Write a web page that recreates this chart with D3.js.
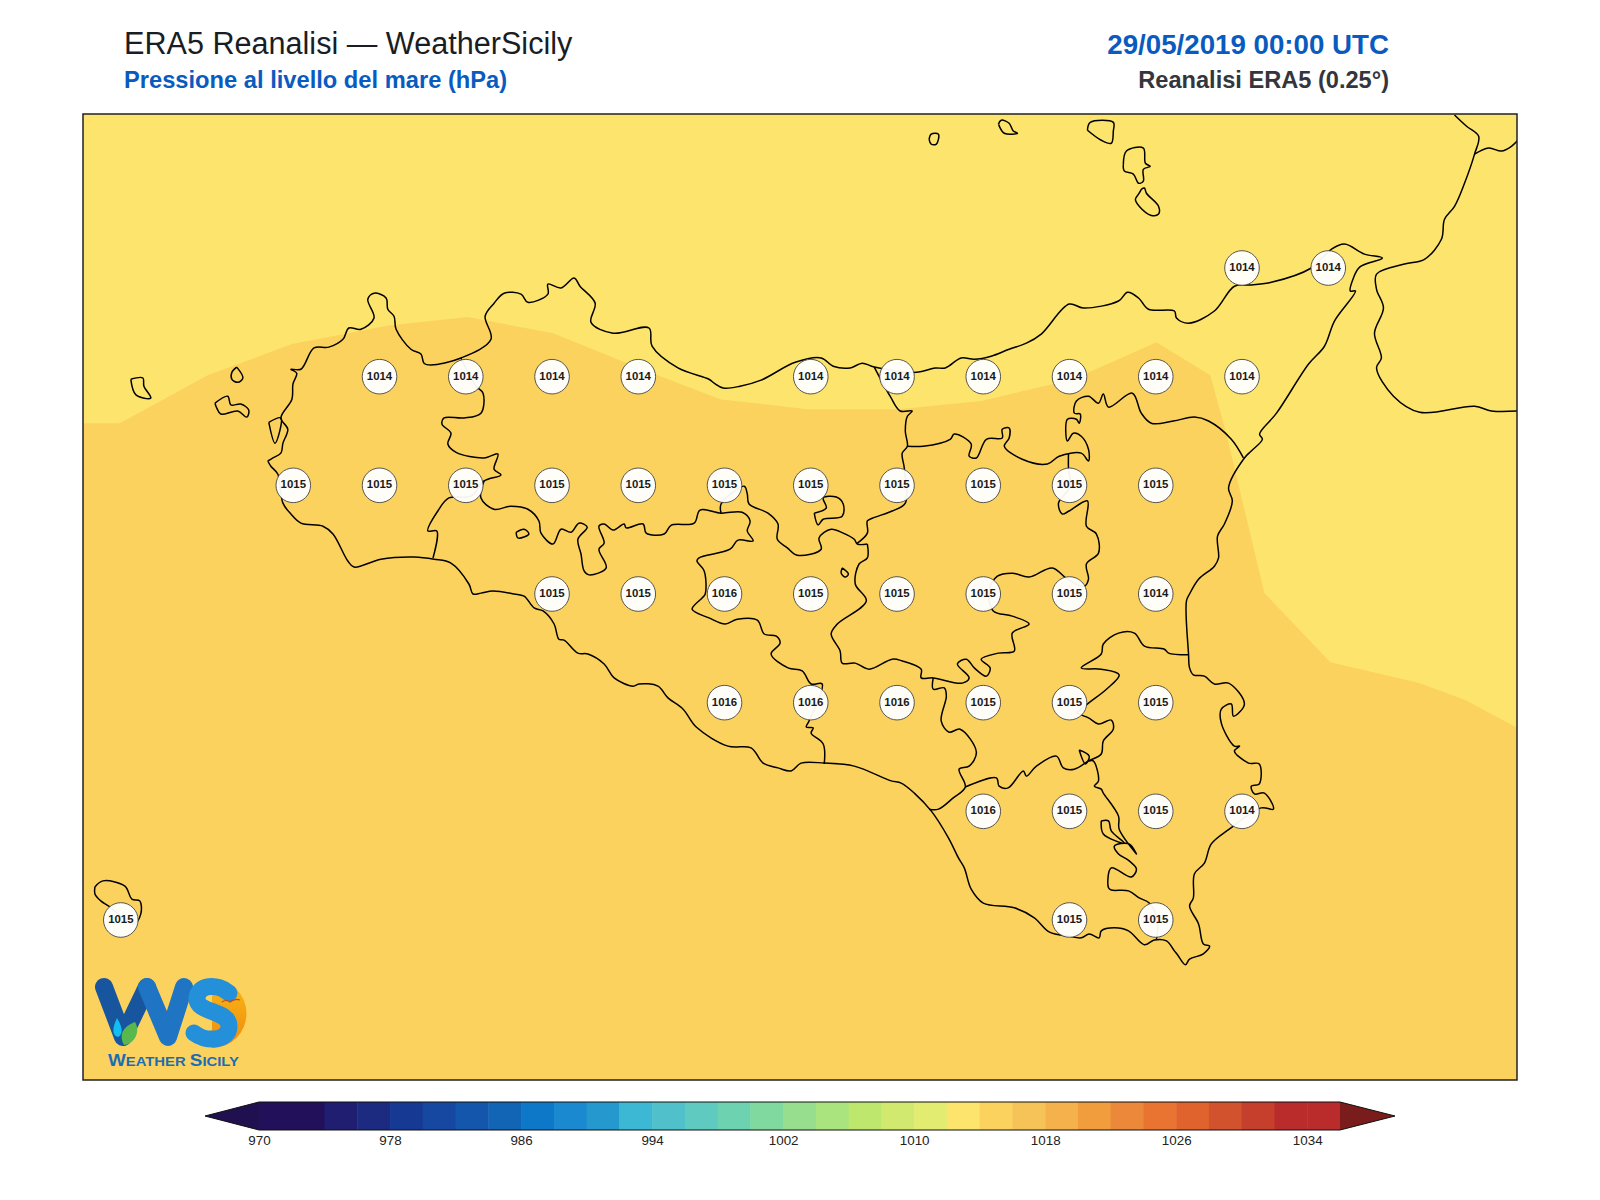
<!DOCTYPE html>
<html>
<head>
<meta charset="utf-8">
<script src="https://cdn.jsdelivr.net/npm/d3@7.9.0/dist/d3.min.js"></script>
<style>
  html, body { margin: 0; background: #fff; }
  text { font-family: "Liberation Sans", Arial, sans-serif; }
</style>
</head>
<body>
<svg id="chart" width="1600" height="1200"></svg>
<script>
// colour bar levels (hPa) and their colours
const levels = [972,974,976,978,980,982,984,986,988,990,992,994,996,998,1000,1002,1004,1006,1008,1010,1012,1014,1016,1018,1020,1022,1024,1026,1028,1030,1032,1034];
const levelColors = ['#22105a','#22105a','#201e70','#1c2b7f','#163a94','#1648a1','#1456ab','#1265b5','#0e78c8','#1a89cf','#2599cd','#3cb8d4','#50c0cb','#5fcabf','#6cd2b0','#80d99f','#97de8e','#aae47f','#bde76d','#d0e96e','#e2ec70','#fde46c','#fcd25f','#f6c358','#f5b24c','#f19d3d','#ec883a','#e97431','#e0622c','#d1522c','#c63e2c','#ba2b2b','#ba2b2b'];
const colorTicks = [970,978,986,994,1002,1010,1018,1026,1034];
const underColor = '#201050';
const overColor = '#7b1c1c';

// pressure labels on the 0.25 degree grid
const lat3825 = { lat: 38.25, lons: [15.25,15.5], vals: [1014,1014] };
const lat3800 = { lat: 38.0, lons: [12.75,13,13.25,13.5,14,14.25,14.5,14.75,15,15.25], vals: [1014,1014,1014,1014,1014,1014,1014,1014,1014,1014] };
const lat3775 = { lat: 37.75, lons: [12.5,12.75,13,13.25,13.5,13.75,14,14.25,14.5,14.75,15], vals: [1015,1015,1015,1015,1015,1015,1015,1015,1015,1015,1015] };
const lat3750 = { lat: 37.5, lons: [13.25,13.5,13.75,14,14.25,14.5,14.75,15], vals: [1015,1015,1016,1015,1015,1015,1015,1014] };
const lat3725 = { lat: 37.25, lons: [13.75,14,14.25,14.5,14.75,15], vals: [1016,1016,1016,1015,1015,1015] };
const lat3700 = { lat: 37.0, lons: [14.5,14.75,15,15.25], vals: [1016,1015,1015,1014] };
const lat3675 = { lat: 36.75, lons: [12,14.75,15], vals: [1015,1015,1015] };

// 1014 hPa contour, west to east
const contour1014 = [[11.89,37.893],[11.997,37.893],[12.252,38.003],[12.496,38.075],[12.777,38.118],[13.006,38.137],[13.253,38.100],[13.502,38.020],[13.737,37.948],[13.990,37.925],[14.256,37.925],[14.494,37.944],[14.761,37.994],[15.002,38.079],[15.158,38.003],[15.202,37.877],[15.315,37.502],[15.506,37.343],[15.764,37.295],[15.897,37.256],[16.06,37.187]];

// coastlines, lon/lat
const coastSicily = [[12.426,37.806],[12.441,37.813],[12.464,37.824],[12.470,37.847],[12.484,37.879],[12.464,37.905],[12.496,37.948],[12.499,37.983],[12.510,38.008],[12.493,38.017],[12.522,38.017],[12.560,38.066],[12.603,38.068],[12.644,38.086],[12.661,38.112],[12.696,38.109],[12.734,38.135],[12.716,38.178],[12.734,38.192],[12.769,38.181],[12.774,38.155],[12.792,38.139],[12.798,38.109],[12.841,38.063],[12.870,38.052],[12.879,38.031],[12.899,38.027],[12.986,38.043],[13.073,38.086],[13.056,38.139],[13.082,38.169],[13.111,38.192],[13.160,38.190],[13.180,38.171],[13.238,38.190],[13.238,38.213],[13.276,38.204],[13.314,38.227],[13.331,38.208],[13.375,38.169],[13.363,38.125],[13.427,38.100],[13.531,38.112],[13.540,38.070],[13.615,38.020],[13.705,37.994],[13.720,37.985],[13.746,37.974],[13.795,37.978],[13.856,37.992],[13.955,38.033],[14.030,38.043],[14.065,38.024],[14.114,38.020],[14.149,38.031],[14.184,38.022],[14.306,38.010],[14.361,38.020],[14.390,38.020],[14.436,38.043],[14.474,38.040],[14.523,38.047],[14.575,38.063],[14.625,38.077],[14.668,38.098],[14.749,38.167],[14.790,38.158],[14.892,38.174],[14.918,38.194],[14.950,38.181],[14.979,38.155],[15.054,38.151],[15.060,38.135],[15.095,38.123],[15.170,38.151],[15.228,38.208],[15.277,38.211],[15.335,38.217],[15.451,38.250],[15.509,38.293],[15.547,38.305],[15.605,38.282],[15.657,38.273],[15.591,38.252],[15.573,38.227],[15.564,38.197],[15.579,38.197],[15.518,38.128],[15.489,38.070],[15.443,38.029],[15.350,37.916],[15.301,37.868],[15.309,37.856],[15.277,37.829],[15.257,37.813],[15.211,37.744],[15.222,37.714],[15.199,37.661],[15.179,37.633],[15.182,37.583],[15.170,37.564],[15.124,37.534],[15.098,37.500],[15.089,37.484],[15.095,37.362],[15.098,37.330],[15.109,37.314],[15.141,37.311],[15.170,37.293],[15.211,37.295],[15.257,37.247],[15.225,37.219],[15.219,37.247],[15.190,37.235],[15.190,37.203],[15.228,37.150],[15.243,37.150],[15.228,37.139],[15.269,37.111],[15.300,37.109],[15.300,37.063],[15.277,37.058],[15.286,37.040],[15.315,37.042],[15.341,37.005],[15.306,37.008],[15.213,36.959],[15.161,36.925],[15.141,36.881],[15.112,36.856],[15.109,36.801],[15.098,36.782],[15.124,36.741],[15.138,36.695],[15.156,36.690],[15.138,36.672],[15.098,36.660],[15.086,36.647],[15.063,36.670],[15.054,36.679],[15.031,36.702],[14.996,36.704],[14.967,36.693],[14.921,36.725],[14.880,36.732],[14.842,36.725],[14.836,36.709],[14.807,36.718],[14.784,36.709],[14.747,36.713],[14.692,36.722],[14.648,36.755],[14.590,36.778],[14.500,36.789],[14.465,36.821],[14.445,36.870],[14.428,36.893],[14.399,36.939],[14.349,37.001],[14.300,37.042],[14.262,37.065],[14.233,37.070],[14.126,37.104],[14.039,37.111],[13.972,37.111],[13.943,37.093],[13.905,37.100],[13.862,37.111],[13.827,37.146],[13.760,37.150],[13.668,37.194],[13.630,37.235],[13.586,37.261],[13.557,37.288],[13.502,37.293],[13.485,37.288],[13.430,37.307],[13.401,37.339],[13.354,37.362],[13.325,37.364],[13.285,37.394],[13.270,37.396],[13.256,37.431],[13.224,37.461],[13.198,37.468],[13.169,37.495],[13.140,37.500],[13.079,37.507],[13.044,37.502],[13.021,37.500],[13.009,37.523],[12.957,37.571],[12.908,37.580],[12.850,37.585],[12.754,37.580],[12.676,37.562],[12.658,37.576],[12.615,37.638],[12.586,37.656],[12.522,37.663],[12.493,37.684],[12.470,37.709],[12.455,37.776],[12.435,37.794],[12.426,37.806]];
const stagnone = [[12.429,37.895],[12.464,37.905],[12.447,37.847],[12.429,37.895]];
const marettimo = [[12.029,37.994],[12.064,37.997],[12.067,37.978],[12.087,37.951],[12.044,37.958],[12.029,37.994]];
const levanzo = [[12.336,38.022],[12.354,37.997],[12.339,37.987],[12.322,37.994],[12.322,38.010],[12.336,38.022]];
const favignana = [[12.273,37.939],[12.310,37.955],[12.319,37.935],[12.348,37.937],[12.371,37.923],[12.365,37.907],[12.339,37.921],[12.290,37.914],[12.278,37.928],[12.273,37.939]];
const alicudi = [[14.343,38.546],[14.349,38.558],[14.370,38.558],[14.364,38.535],[14.349,38.535],[14.343,38.546]];
const filicudi = [[14.544,38.581],[14.552,38.590],[14.575,38.583],[14.587,38.565],[14.599,38.560],[14.561,38.560],[14.544,38.581]];
const salina = [[14.802,38.567],[14.810,38.585],[14.877,38.585],[14.877,38.565],[14.871,38.537],[14.842,38.544],[14.802,38.567]];
const lipari = [[14.906,38.489],[14.915,38.519],[14.964,38.526],[14.970,38.491],[14.984,38.484],[14.964,38.477],[14.964,38.450],[14.950,38.445],[14.935,38.466],[14.909,38.473],[14.906,38.489]];
const vulcano = [[14.958,38.431],[14.967,38.434],[14.973,38.422],[15.008,38.392],[15.008,38.374],[14.987,38.371],[14.952,38.392],[14.941,38.408],[14.952,38.422],[14.958,38.431]];
const pantelleria = [[11.925,36.826],[11.948,36.840],[12.012,36.828],[12.032,36.798],[12.055,36.794],[12.058,36.764],[12.038,36.741],[11.965,36.782],[11.942,36.794],[11.925,36.810],[11.925,36.826]];
const pergusa = [[14.091,37.560],[14.109,37.546],[14.100,37.539],[14.088,37.548],[14.091,37.560]];
const enclaveA = [[14.010,37.686],[14.045,37.698],[14.036,37.721],[14.074,37.723],[14.094,37.707],[14.091,37.679],[14.036,37.672],[14.021,37.659],[14.010,37.686]];
const enclaveB = [[13.146,37.642],[13.169,37.649],[13.183,37.638],[13.151,37.629],[13.146,37.642]];
const calabria = [[15.866,38.602],[15.901,38.576],[15.936,38.553],[15.924,38.512],[15.895,38.445],[15.866,38.392],[15.837,38.362],[15.828,38.316],[15.779,38.270],[15.721,38.259],[15.640,38.236],[15.640,38.201],[15.660,38.158],[15.634,38.100],[15.654,38.043],[15.640,38.020],[15.689,37.955],[15.765,37.918],[15.924,37.932],[15.973,37.921],[16.052,37.921]];
const calabriaEast = [[15.924,38.512],[15.965,38.526],[16.002,38.519],[16.031,38.530],[16.052,38.546]];

// province borders
const borderTpPa = [[12.986,38.043],[13.030,37.978],[13.050,37.962],[13.044,37.916],[12.995,37.905],[12.937,37.905],[12.931,37.891],[12.957,37.870],[12.948,37.845],[12.972,37.826],[13.053,37.813],[13.093,37.822],[13.082,37.787],[13.102,37.774],[13.053,37.760],[13.015,37.725],[12.951,37.721],[12.919,37.691],[12.890,37.645],[12.916,37.645],[12.905,37.583]];
const borderPaAg = [[13.053,37.760],[13.044,37.721],[13.082,37.695],[13.131,37.702],[13.180,37.695],[13.212,37.668],[13.218,37.640],[13.253,37.615],[13.276,37.649],[13.305,37.642],[13.328,37.663],[13.352,37.654],[13.325,37.626],[13.334,37.592],[13.343,37.553],[13.357,37.544],[13.407,37.560],[13.386,37.603],[13.401,37.617],[13.386,37.656],[13.401,37.661],[13.427,37.647],[13.459,37.661],[13.465,37.652],[13.514,37.661],[13.523,37.640],[13.575,37.638],[13.595,37.658],[13.662,37.663],[13.679,37.693],[13.740,37.686],[13.801,37.688],[13.824,37.668],[13.816,37.645],[13.833,37.622],[13.789,37.624],[13.766,37.603],[13.676,37.583],[13.670,37.576],[13.691,37.553],[13.694,37.500],[13.685,37.491],[13.656,37.465],[13.705,37.445],[13.752,37.431],[13.787,37.442],[13.845,37.440],[13.865,37.408],[13.900,37.403],[13.911,37.387],[13.885,37.362],[13.934,37.330],[13.975,37.323],[14.001,37.293],[14.033,37.293],[13.995,37.208],[13.987,37.194],[14.007,37.192],[14.001,37.180],[14.036,37.155],[14.039,37.109]];
const borderPaCl = [[13.740,37.686],[13.740,37.707],[13.807,37.748],[13.816,37.730],[13.821,37.707],[13.876,37.686],[13.905,37.661],[13.903,37.626],[13.932,37.606],[13.961,37.589],[14.030,37.603],[14.024,37.629],[14.059,37.649],[14.094,37.640],[14.126,37.626],[14.135,37.615],[14.164,37.615]];
const borderPaMe = [[14.135,37.617],[14.164,37.640],[14.164,37.668],[14.181,37.675],[14.236,37.691],[14.274,37.709],[14.271,37.790],[14.265,37.824],[14.280,37.840],[14.274,37.875],[14.280,37.909],[14.294,37.921],[14.259,37.921],[14.230,37.955],[14.184,38.022]];
const borderMeEn = [[14.280,37.840],[14.326,37.840],[14.404,37.856],[14.416,37.868],[14.465,37.845],[14.459,37.817],[14.480,37.813],[14.509,37.856],[14.555,37.859],[14.555,37.879],[14.575,37.882],[14.575,37.859],[14.561,37.840],[14.613,37.810],[14.686,37.799],[14.720,37.817],[14.784,37.824],[14.805,37.806],[14.805,37.833],[14.784,37.863],[14.761,37.870],[14.744,37.852],[14.744,37.902],[14.770,37.902],[14.778,37.893],[14.781,37.914],[14.764,37.916],[14.770,37.944],[14.805,37.955],[14.834,37.939],[14.848,37.960],[14.863,37.930],[14.932,37.962],[14.958,37.916],[14.987,37.893],[15.051,37.898],[15.112,37.907],[15.153,37.898],[15.219,37.856],[15.254,37.813]];
const borderEnCt = [[14.747,37.822],[14.747,37.790],[14.752,37.748],[14.718,37.709],[14.729,37.684],[14.749,37.691],[14.802,37.714],[14.799,37.656],[14.828,37.638],[14.834,37.594],[14.799,37.569],[14.805,37.534],[14.793,37.518],[14.744,37.534],[14.700,37.560],[14.633,37.539],[14.584,37.548],[14.541,37.541],[14.517,37.507],[14.529,37.461],[14.584,37.449],[14.633,37.431],[14.584,37.410],[14.590,37.369],[14.544,37.364],[14.494,37.350],[14.520,37.330],[14.509,37.311],[14.474,37.330],[14.451,37.350],[14.425,37.339],[14.459,37.307],[14.439,37.295],[14.355,37.307],[14.320,37.307],[14.320,37.327],[14.265,37.346],[14.236,37.350],[14.169,37.327],[14.129,37.341],[14.091,37.341],[14.085,37.369],[14.059,37.408],[14.077,37.431],[14.161,37.484],[14.129,37.523],[14.140,37.569],[14.164,37.583],[14.164,37.615]];
const borderClCt = [[14.355,37.307],[14.355,37.281],[14.387,37.284],[14.393,37.265],[14.378,37.208],[14.401,37.182],[14.433,37.189],[14.480,37.136],[14.459,37.104],[14.430,37.097],[14.448,37.056],[14.413,37.031],[14.370,37.005],[14.343,37.005]];
const borderRgCt = [[14.448,37.056],[14.538,37.077],[14.546,37.058],[14.572,37.054],[14.616,37.093],[14.625,37.081],[14.654,37.104],[14.712,37.127],[14.732,37.100],[14.764,37.097],[14.805,37.116],[14.842,37.132],[14.848,37.162],[14.877,37.189],[14.871,37.210],[14.834,37.201],[14.805,37.215],[14.770,37.226]];
const borderCtSr = [[15.095,37.360],[15.037,37.364],[15.025,37.373],[14.967,37.380],[14.938,37.410],[14.892,37.410],[14.848,37.385],[14.842,37.362],[14.784,37.330],[14.842,37.327],[14.894,37.314],[14.857,37.281],[14.805,37.249],[14.770,37.226]];
const borderRgSr = [[14.805,37.116],[14.819,37.116],[14.834,37.070],[14.822,37.058],[14.842,37.051],[14.848,37.042],[14.892,36.989],[14.894,36.959],[14.944,36.902],[14.923,36.925],[14.880,36.920],[14.892,36.902],[14.923,36.886],[14.944,36.867],[14.929,36.849],[14.871,36.870],[14.863,36.824],[14.871,36.819],[14.921,36.817],[14.952,36.801],[14.981,36.789],[15.005,36.750],[15.002,36.706]];
const loopRg = [[14.778,37.141],[14.807,37.127],[14.796,37.109],[14.778,37.141]];
const loopSr = [[14.842,36.978],[14.863,36.978],[14.871,36.955],[14.909,36.927],[14.848,36.948],[14.842,36.978]];

const mapLines = [coastSicily, stagnone, marettimo, levanzo, favignana, alicudi, filicudi, salina, lipari, vulcano, pantelleria, pergusa, enclaveA, enclaveB, calabria, calabriaEast, borderTpPa, borderPaAg, borderPaCl, borderPaMe, borderMeEn, borderEnCt, borderClCt, borderRgCt, borderCtSr, borderRgSr, loopRg, loopSr];
const labelRows = [lat3825, lat3800, lat3775, lat3750, lat3725, lat3700, lat3675];

const svg = d3.select('#chart');

const frame = { left: 83, right: 1517, top: 114, bottom: 1080 };
const x = d3.scaleLinear().domain([12, 15.75]).range([120.8, 1414.5]);
const y = d3.scaleLinear().domain([36.75, 38.25]).range([920, 268]);
const color = d3.scaleThreshold().domain(levels).range(levelColors);

svg.append('clipPath').attr('id', 'mapClip')
  .append('rect')
  .attr('x', frame.left).attr('y', frame.top)
  .attr('width', frame.right - frame.left).attr('height', frame.bottom - frame.top);

const map = svg.append('g').attr('clip-path', 'url(#mapClip)');

// field: 1012-1014 band everywhere, 1014-1016 band south of the contour
map.append('rect')
  .attr('x', frame.left).attr('y', frame.top)
  .attr('width', frame.right - frame.left).attr('height', frame.bottom - frame.top)
  .attr('fill', color(1013));

const bandArea = d3.area()
  .x(d => x(d[0]))
  .y0(frame.bottom)
  .y1(d => y(d[1]));
map.append('path').datum(contour1014).attr('d', bandArea).attr('fill', color(1015));

// the shoreline is traced coarsely, the spline takes the corners off
const line = d3.line().x(d => x(d[0])).y(d => y(d[1])).curve(d3.curveCatmullRom.alpha(0.5));
map.selectAll('path.coast')
  .data(mapLines)
  .join('path')
  .attr('class', 'coast')
  .attr('d', line)
  .attr('fill', 'none')
  .attr('stroke', '#000')
  .attr('stroke-width', 1.5)
  .attr('stroke-linejoin', 'round');

// pressure labels
const labels = labelRows.flatMap(r => r.lons.map((lon, i) => ({ lon, lat: r.lat, val: r.vals[i] })));
const labelG = map.selectAll('g.label')
  .data(labels)
  .join('g')
  .attr('class', 'label')
  .attr('transform', d => `translate(${x(d.lon)},${y(d.lat)})`);
labelG.append('circle')
  .attr('r', 17.3)
  .attr('fill', '#fff')
  .attr('fill-opacity', 0.95)
  .attr('stroke', '#444')
  .attr('stroke-width', 0.9);
labelG.append('text')
  .attr('text-anchor', 'middle')
  .attr('y', 3)
  .attr('font-size', 11.4)
  .attr('font-weight', 700)
  .attr('fill', '#1a1a1a')
  .text(d => d.val);

// logo, drawn over the map
const logo = svg.append('g');
const defs = svg.append('defs');
const sunGrad = defs.append('linearGradient').attr('id', 'sunGrad').attr('x1', 0).attr('y1', 0).attr('x2', 0).attr('y2', 1);
sunGrad.append('stop').attr('offset', 0).attr('stop-color', '#f9b915');
sunGrad.append('stop').attr('offset', 1).attr('stop-color', '#ee8a10');
logo.append('path')
  .attr('d', 'M212 979 A34.5 34.5 0 0 1 212 1048 Z')
  .attr('fill', 'url(#sunGrad)');
logo.append('path')
  .attr('d', 'M104 987 L123 1037 L147 987').attr('fill', 'none')
  .attr('stroke', '#17559f').attr('stroke-width', 18).attr('stroke-linecap', 'round').attr('stroke-linejoin', 'round');
logo.append('path')
  .attr('d', 'M147 987 L168 1037 L184 987').attr('fill', 'none')
  .attr('stroke', '#1f74c4').attr('stroke-width', 18).attr('stroke-linecap', 'round').attr('stroke-linejoin', 'round');
logo.append('path')
  .attr('d', 'M229 993 C218 983 197 984 197 999 C197 1013 229 1010 229 1026 C229 1042 205 1042 194 1033').attr('fill', 'none')
  .attr('stroke', '#2390d9').attr('stroke-width', 17).attr('stroke-linecap', 'round');
logo.append('path').attr('d', 'M117 1018 C122 1026 124 1034 118 1037 C112 1036 112 1028 117 1018 Z').attr('fill', '#12bdf0');
logo.append('path').attr('d', 'M135 1022 C141 1032 134 1044 124 1045 C118 1034 124 1026 135 1022 Z').attr('fill', '#58b84e');
logo.append('path').attr('d', 'M222 1002 Q226 999 230 1002 Q235 998 240 1000').attr('fill', 'none').attr('stroke', '#c5461a').attr('stroke-width', 1.2);
const logoText = logo.append('text')
  .attr('x', 108).attr('y', 1066)
  .attr('font-weight', 700).attr('fill', '#1b6db5')
  .attr('textLength', 131).attr('lengthAdjust', 'spacingAndGlyphs');
[['W', 17], ['EATHER ', 13.4], ['S', 17], ['ICILY', 13.4]].forEach(([t, size]) => {
  logoText.append('tspan').attr('font-size', size).text(t);
});

// frame on top of everything in the map
svg.append('rect')
  .attr('x', frame.left).attr('y', frame.top)
  .attr('width', frame.right - frame.left).attr('height', frame.bottom - frame.top)
  .attr('fill', 'none').attr('stroke', '#222').attr('stroke-width', 1.5);

// titles
const titleRows = [
  { t: 'ERA5 Reanalisi \u2014 WeatherSicily', x: 124, y: 54, size: 30.6, weight: 400, fill: '#1a1d24', anchor: 'start' },
  { t: 'Pressione al livello del mare (hPa)', x: 124, y: 88, size: 23.7, weight: 700, fill: '#0a5bbf', anchor: 'start' },
  { t: '29/05/2019 00:00 UTC', x: 1389, y: 54, size: 27.7, weight: 700, fill: '#0a5bbf', anchor: 'end' },
  { t: 'Reanalisi ERA5 (0.25\u00b0)', x: 1389, y: 88, size: 23.6, weight: 700, fill: '#33363c', anchor: 'end' }
];
svg.selectAll('text.title')
  .data(titleRows)
  .join('text')
  .attr('class', 'title')
  .attr('x', d => d.x).attr('y', d => d.y)
  .attr('font-size', d => d.size).attr('font-weight', d => d.weight)
  .attr('fill', d => d.fill).attr('text-anchor', d => d.anchor)
  .text(d => d.t);

// colour bar
const barTop = 1102, barBottom = 1130;
const barX = d3.scaleLinear().domain([970, 1036]).range([259, 1340]);
const barEdges = [970].concat(levels);
const bar = svg.append('g');
bar.selectAll('rect')
  .data(barEdges)
  .join('rect')
  .attr('x', d => barX(d))
  .attr('y', barTop)
  .attr('width', d => barX(d + 2) - barX(d) + 0.5)
  .attr('height', barBottom - barTop)
  .attr('fill', d => color(d));
bar.append('path')
  .attr('d', `M${barX(970)} ${barTop} L205 ${(barTop + barBottom) / 2} L${barX(970)} ${barBottom} Z`)
  .attr('fill', underColor);
bar.append('path')
  .attr('d', `M${barX(1036)} ${barTop} L1395 ${(barTop + barBottom) / 2} L${barX(1036)} ${barBottom} Z`)
  .attr('fill', overColor);
bar.append('path')
  .attr('d', `M${barX(970)} ${barTop} L${barX(1036)} ${barTop} L1395 ${(barTop + barBottom) / 2} L${barX(1036)} ${barBottom} L${barX(970)} ${barBottom} L205 ${(barTop + barBottom) / 2} Z`)
  .attr('fill', 'none').attr('stroke', '#111').attr('stroke-width', 1);

const barAxis = d3.axisBottom(barX).tickValues(colorTicks).tickSize(0).tickPadding(5).tickFormat(d3.format('d'));
const barAxisG = svg.append('g').attr('transform', `translate(0,${barBottom})`).call(barAxis);
barAxisG.select('.domain').remove();
barAxisG.selectAll('text')
  .attr('font-size', 13.4)
  .attr('font-family', '"Liberation Sans", Arial, sans-serif')
  .attr('fill', '#222');
</script>
</body>
</html>
